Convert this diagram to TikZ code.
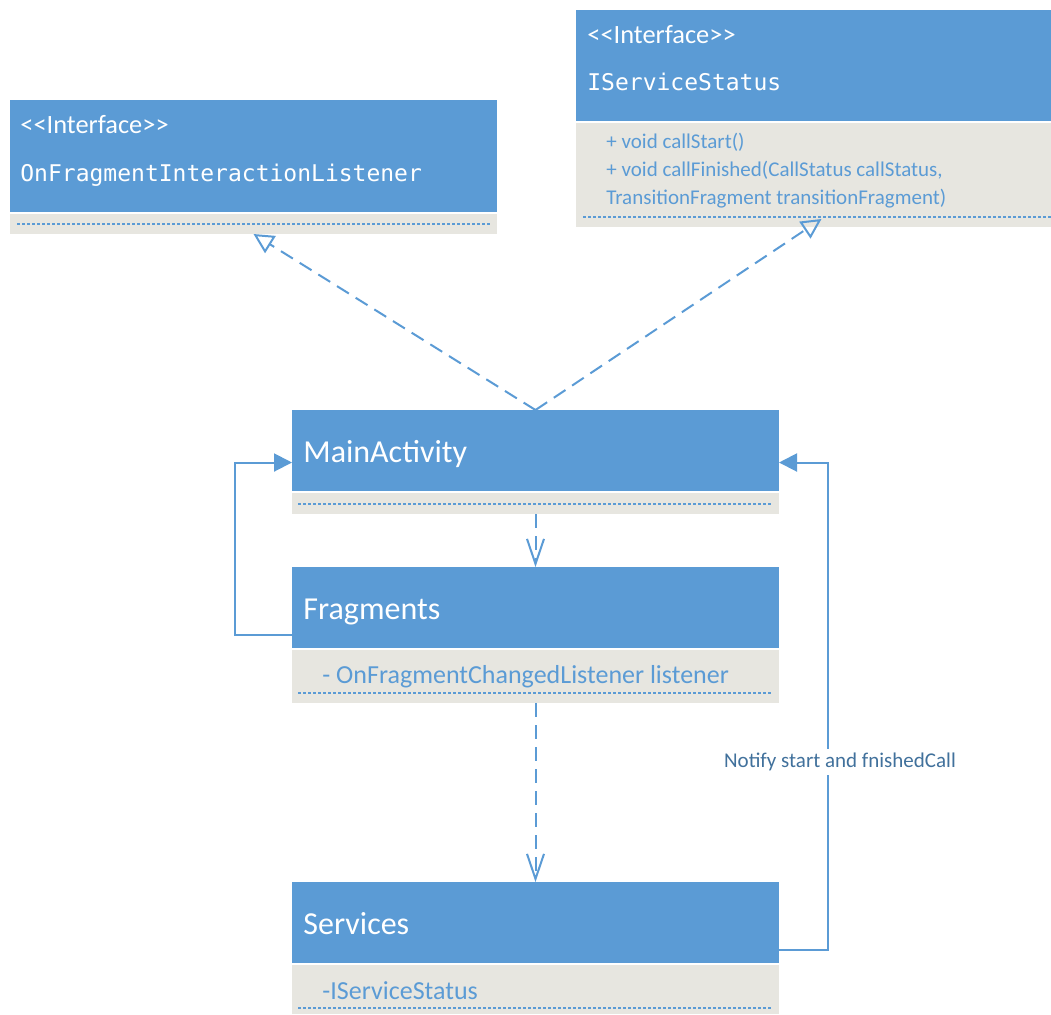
\documentclass[tikz,border=0pt]{standalone}
\usepackage{fontspec}
\setmainfont{Carlito}
\newfontfamily\codefont{DejaVu Sans Mono}
\usetikzlibrary{arrows.meta}
\definecolor{hdblue}{HTML}{5B9BD5}
\definecolor{attgray}{HTML}{E7E6E0}
\definecolor{notecol}{HTML}{41719C}
\newcommand{\stereotag}[1]{<\kern0pt<#1>\kern0pt>}

\begin{document}
\begin{tikzpicture}[x=0.5pt,y=-0.5pt,
  head/.style={fill=hdblue, inner sep=0pt, outer sep=0pt, anchor=north west, minimum width=243.5pt},
  attr/.style={fill=attgray, inner sep=0pt, outer sep=0pt, anchor=north west, minimum width=243.5pt},
  stereo/.style={anchor=base west, inner sep=0pt, white, font=\fontsize{13.2}{15}\selectfont},
  code/.style={anchor=base west, inner sep=0pt, white, font=\codefont\fontsize{11.5}{13}\selectfont},
  title/.style={anchor=base west, inner sep=0pt, white, font=\fontsize{16}{19}\selectfont},
  member/.style={anchor=base west, inner sep=0pt, hdblue, font=\fontsize{13}{15}\selectfont},
  method/.style={anchor=base west, inner sep=0pt, hdblue, font=\fontsize{10.5}{12}\selectfont},
  dotline/.style={hdblue, line width=0.75pt, dash pattern=on 1.5pt off 1pt},
  realize/.style={hdblue, line width=1pt, dash pattern=on 7pt off 4pt, -{Triangle[open, length=10pt, width=10pt]}},
  dep/.style={hdblue, line width=1pt, dash pattern=on 7pt off 4pt, -{Straight Barb[length=12.5pt, width=8.5pt]}},
  assoc/.style={hdblue, line width=1pt, -{Triangle[length=9pt, width=9pt]}},
  note/.style={fill=white, inner sep=2pt, text=notecol, font=\fontsize{10.5}{12}\selectfont}]
\useasboundingbox (0,0) rectangle (1051,1014);

% class boxes
\node[head, minimum height=56pt] (listenerHead) at (10,100) {};
\node[attr, minimum height=10pt] (listenerAttr) at (10,214) {};
\node[head, minimum width=237.5pt, minimum height=55.5pt] (statusHead) at (576,10) {};
\node[attr, minimum width=237.5pt, minimum height=52pt] (statusAttr) at (576,123) {};
\node[head, minimum height=40.5pt] (mainHead) at (292,410) {};
\node[attr, minimum height=10.5pt] (mainAttr) at (292,493) {};
\node[head, minimum height=40.5pt] (fragHead) at (292,567) {};
\node[attr, minimum height=26.5pt] (fragAttr) at (292,650) {};
\node[head, minimum height=40.5pt] (servHead) at (292,882) {};
\node[attr, minimum height=24.5pt] (servAttr) at (292,965) {};

\foreach \xa/\xb/\y in {17/492/224, 583/1051/217, 298/773/504, 298/773/693, 298/773/1008} {
\draw[dotline] (\xa,\y) -- (\xb,\y);
}

% texts
\node[stereo] (listenerStereo) at (20,133) {\stereotag{Interface}};
\node[code] (listenerName) at (20,181) {OnFragmentInteractionListener};
\node[stereo] (statusStereo) at (587,43) {\stereotag{Interface}};
\node[code] (statusName) at (587,90) {IServiceStatus};
\node[method] (statusOpA) at (606,148) {+ void callStart()};
\node[method] (statusOpB) at (606,176) {+ void callFinished(CallStatus callStatus,};
\node[method] (statusOpC) at (606,204) {TransitionFragment transitionFragment)};
\node[title] (mainName) at (303,462) {MainActivity};
\node[title] (fragName) at (303,619) {Fragments};
\node[member] (fragField) at (322,683) {- OnFragmentChangedListener listener};
\node[title] (servName) at (303,934) {Services};
\node[member] (servField) at (322,999) {-IServiceStatus};

% connectors
\draw[realize] (mainHead.north) -- (listenerAttr.south);
\draw[realize] (mainHead.north) -- ([xshift=4pt,yshift=4pt]statusAttr.south);
\draw[dep] (mainAttr.south) -- (fragHead.north);
\draw[dep] (fragAttr.south) -- (servHead.north);
\draw[assoc] ([yshift=6.5pt]fragHead.south west) -- ++(-57,0) |- ([yshift=-6pt]mainHead.west);
\draw[assoc] ([yshift=-13.75pt]servHead.east) -- ++(49,0) |- ([yshift=-6pt]mainHead.east);
\node[note] (notifyLabel) at (840,762) {Notify start and fnishedCall};
\end{tikzpicture}
\end{document}
